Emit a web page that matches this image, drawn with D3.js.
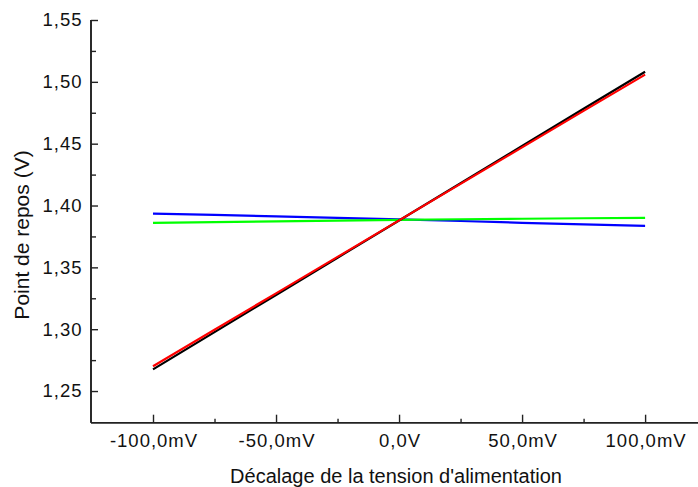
<!DOCTYPE html>
<html><head><meta charset="utf-8">
<script src="https://cdn.jsdelivr.net/npm/d3@7"></script>
<style>body{margin:0;background:#fff}text{font-family:"Liberation Sans",Arial,sans-serif;fill:#111}</style>
</head><body>
<svg id="c" width="698" height="487"></svg>
<script>
const offsets = [-100, -75, -50, -25, 0, 25, 50, 75, 100];
const blackSeries = [1.2675, 1.2976, 1.3277, 1.3578, 1.3879, 1.4180, 1.4481, 1.4782, 1.5082];
const redSeries   = [1.2700, 1.2995, 1.3290, 1.3585, 1.3880, 1.4175, 1.4470, 1.4765, 1.5058];
const blueSeries  = [1.3935, 1.3924, 1.3913, 1.3900, 1.3888, 1.3875, 1.3860, 1.3847, 1.3835];
const greenSeries = [1.3860, 1.3866, 1.3872, 1.3878, 1.3884, 1.3889, 1.3893, 1.3897, 1.3900];
const xTickValues = [-100, -50, 0, 50, 100];
const xTickLabels = ["-100,0mV", "-50,0mV", "0,0V", "50,0mV", "100,0mV"];
const xMinorTicks = [-75, -25, 25, 75];
const yTickValues = [1.25, 1.30, 1.35, 1.40, 1.45, 1.50, 1.55];
const yTickLabels = ["1,25", "1,30", "1,35", "1,40", "1,45", "1,50", "1,55"];
const yMinorTicks = [1.275, 1.325, 1.375, 1.425, 1.475, 1.525];
const xTitle = "Décalage de la tension d'alimentation";
const yTitle = "Point de repos (V)";

const svg = d3.select("#c");
const x = d3.scaleLinear().domain([-125.2, 121.5]).range([91, 698]);
const y = d3.scaleLinear().domain([1.2244, 1.55]).range([422.7, 20]);
const axisColor = "#222";
const fontFam = '"Liberation Sans", Arial, sans-serif';

const series = [
  {vals: blueSeries, color: "#0000ff"},
  {vals: greenSeries, color: "#00ff00"},
  {vals: blackSeries, color: "#000000"},
  {vals: redSeries, color: "#ff0000"}
];
const line = d3.line().x((d,i)=>x(offsets[i])).y(d=>y(d));
series.forEach(s=>{
  svg.append("path").attr("d", line(s.vals)).attr("fill","none")
    .attr("stroke", s.color).attr("stroke-width", 2.2);
});

// X axis
const xAxisG = svg.append("g").attr("transform", `translate(0,${y.range()[0]})`)
  .call(d3.axisBottom(x).tickValues(xTickValues).tickSize(-8)
    .tickFormat((d,i)=>xTickLabels[i]));
xAxisG.append("g").call(d3.axisBottom(x).tickValues(xMinorTicks).tickSize(-4).tickFormat(""));
xAxisG.selectAll("path.domain").attr("d", `M${x.range()[0]},0H${x.range()[1]}`);
xAxisG.selectAll(".tick text").attr("y", 24.5).attr("dy", null).attr("dx", "0.5px");

// Y axis
const yAxisG = svg.append("g").attr("transform", `translate(${x.range()[0]},0)`)
  .call(d3.axisLeft(y).tickValues(yTickValues).tickSize(-7)
    .tickFormat((d,i)=>yTickLabels[i]));
yAxisG.append("g").call(d3.axisLeft(y).tickValues(yMinorTicks).tickSize(-5).tickFormat(""));
yAxisG.selectAll("path.domain").attr("d", `M0,${y.range()[0]}V${y.range()[1]}`);
yAxisG.selectAll(".tick text").attr("x", -8.5);

svg.selectAll(".domain").attr("stroke", axisColor).attr("stroke-width", 1.6);
svg.selectAll(".tick line").attr("stroke", axisColor).attr("stroke-width", 1.4);
svg.selectAll(".tick text").attr("font-size", 18.5).attr("letter-spacing", "1px")
  .attr("font-family", fontFam).attr("fill", "#111");

svg.append("text").attr("x", 396).attr("y", 482.5).attr("text-anchor","middle")
  .attr("font-size", 20).text(xTitle);
svg.append("text").attr("transform","translate(29.3,235) rotate(-90)").attr("text-anchor","middle")
  .attr("font-size", 21).text(yTitle);
</script>
</body></html>
